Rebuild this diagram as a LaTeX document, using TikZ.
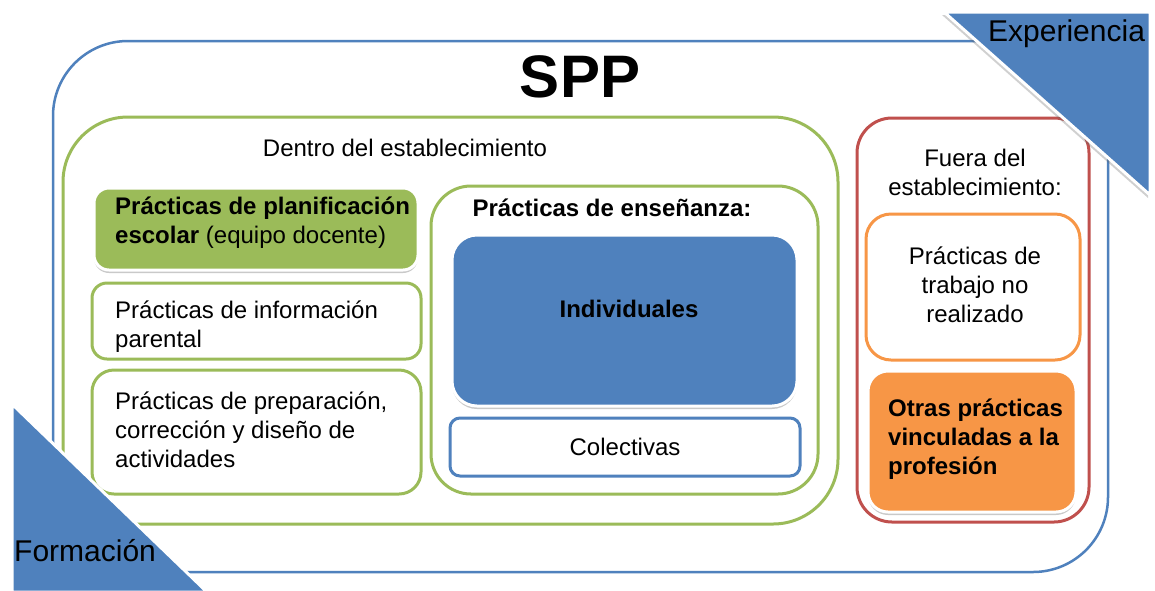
\documentclass[tikz,border=0pt]{standalone}
\usepackage{fontspec}
\setmainfont{Liberation Sans}
\usetikzlibrary{shadows}
\definecolor{sblue}{HTML}{4F81BD}
\definecolor{sgreen}{HTML}{9BBB59}
\definecolor{sred}{HTML}{C0504D}
\definecolor{sorange}{HTML}{F79646}
\tikzset{
  frame/.style={draw, line width=3pt, rounded corners=#1, fill=white, inner sep=0pt},
  filledbox/.style={draw=white, line width=3pt, rounded corners=#1, inner sep=0pt,
    drop shadow={shadow xshift=0pt, shadow yshift=-3pt, opacity=0.35, fill=black!60}},
  body/.style={inner sep=0pt, font=\fontsize{24}{29}\selectfont},
  bbody/.style={inner sep=0pt, font=\fontsize{24}{29}\selectfont\bfseries},
  corner/.style={fill=sblue, draw=white, line width=3pt, line join=miter},
  cornertext/.style={inner sep=0pt, font=\fontsize{30}{36}\selectfont}
}
\begin{document}
\begin{tikzpicture}[x=1pt,y=-1pt]
\useasboundingbox[fill=white] (0,0) rectangle (1155,590);
% outer frame
\node[frame=75, draw=sblue, line width=2.5pt, minimum width=1055pt, minimum height=531pt] (outer) at (580.5,306.5) {};
\node[inner sep=0pt, font=\fontsize{60}{70}\selectfont\bfseries] (spp) at (580,77) {SPP};
% dentro
\node[frame=65, draw=sgreen, minimum width=775pt, minimum height=407pt] (dentro) at (450.5,320.5) {};
\node[body] (dentroT) at (405,148) {Dentro del establecimiento};
% left column
\node[filledbox=15, fill=sgreen, minimum width=324pt, minimum height=82pt] (plan) at (256,229) {};
\node[body, anchor=west, align=left] (planT) at (115,223) {\textbf{Prácticas de planificación}\\\textbf{escolar} (equipo docente)};
\node[frame=15, draw=sgreen, minimum width=329pt, minimum height=76pt] (info) at (256.5,321) {};
\node[body, anchor=west, align=left] (infoT) at (115,327) {Prácticas de información\\parental};
\node[frame=22, draw=sgreen, minimum width=329pt, minimum height=124pt] (prep) at (256.5,432) {};
\node[body, anchor=west, align=left] (prepT) at (115,430) {Prácticas de preparación,\\corrección y diseño de\\actividades};
% enseñanza
\node[frame=40, draw=sgreen, minimum width=387pt, minimum height=308pt] (ensen) at (624.5,340) {};
\node[bbody] (ensenT) at (612,208) {Prácticas de enseñanza:};
\node[filledbox=25, fill=sblue, minimum width=345pt, minimum height=171pt] (indiv) at (624.5,320.5) {};
\node[bbody] (indivT) at (629,309) {Individuales};
\node[frame=10, draw=sblue, minimum width=350pt, minimum height=58pt] (colect) at (625,447) {};
\node[body] (colectT) at (625,447) {Colectivas};
% fuera
\node[frame=35, draw=sred, minimum width=232pt, minimum height=404pt] (fuera) at (973,320) {};
\node[body, align=center] (fueraT) at (975,172) {Fuera del\\establecimiento:};
\node[frame=25, draw=sorange, minimum width=214pt, minimum height=146pt] (trabajo) at (973,287) {};
\node[body, align=center] (trabajoT) at (975,285) {Prácticas de\\trabajo no\\realizado};
\node[filledbox=20, fill=sorange, minimum width=208pt, minimum height=141pt] (otras) at (972,441.5) {};
\node[bbody, anchor=west, align=left] (otrasT) at (888,439) {Otras prácticas\\vinculadas a la\\profesión};
% corner triangles
\coordinate (e1) at (944,12);
\coordinate (e2) at (1150,12);
\coordinate (e3) at (1150,195);
\path[corner, drop shadow={shadow xshift=-2pt, shadow yshift=-3pt, opacity=0.3, fill=black!60}] (e1) -- (e2) -- (e3) -- cycle;
\node[cornertext, anchor=west] (exp) at (988,34) {Experiencia};
\coordinate (f1) at (12,404);
\coordinate (f2) at (12,592);
\coordinate (f3) at (207,592);
\path[corner, drop shadow={shadow xshift=2pt, shadow yshift=-3pt, opacity=0.3, fill=black!60}] (f1) -- (f2) -- (f3) -- cycle;
\node[cornertext, anchor=west] (form) at (14,551) {Formación};
\end{tikzpicture}
\end{document}
